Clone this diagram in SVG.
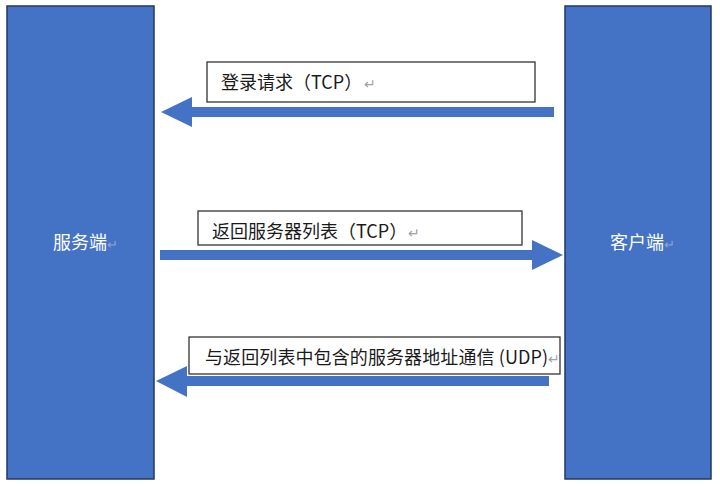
<svg xmlns="http://www.w3.org/2000/svg" width="720" height="486" viewBox="0 0 720 486">
<style>
.node{fill:#4472C4;stroke:#1F3864;stroke-width:1.5}
.nl{font-family:"Noto Sans CJK SC","Liberation Sans",sans-serif;font-size:18px;fill:#ffffff}
.box{fill:#ffffff;stroke:#333333;stroke-width:1.3}
.lt{font-family:"Noto Sans CJK SC","Liberation Sans",sans-serif;font-size:18px;fill:#1a1a1a}
.ret{font-family:"Noto Sans CJK SC","Liberation Sans",sans-serif;fill:#a0a0a0;font-size:14px}
.retw{fill:#8fa4cc;font-size:13px}
.arr{fill:#4472C4}
</style>
<rect width="720" height="486" fill="#ffffff"/>
<g id="server">
<rect class="node" x="7" y="6" width="147" height="473"/>
<text class="nl" x="53" y="249">服务端<tspan class="retw">↵</tspan></text>
</g>
<g id="client">
<rect class="node" x="565" y="6" width="146" height="473"/>
<text class="nl" x="610" y="249">客户端<tspan class="retw">↵</tspan></text>
</g>
<g id="connectors">
<polygon class="arr" points="554,107 192,107 192,97 161,112 192,127 192,117 554,117"/>
<polygon class="arr" points="160,250 532,250 532,240 563,255 532,270 532,260 160,260"/>
<polygon class="arr" points="549,376 187,376 187,366 156,381 187,397 187,386 549,386"/>
</g>
<g id="label1">
<rect class="box" x="207" y="62" width="328" height="40"/>
<text class="lt" x="221" y="89">登录请求（TCP）</text>
<text class="ret" x="364" y="89">↵</text>
</g>
<g id="label2">
<rect class="box" x="198" y="211" width="324" height="34"/>
<text class="lt" x="212" y="238">返回服务器列表（TCP）</text>
<text class="ret" x="408" y="238">↵</text>
</g>
<g id="label3">
<rect class="box" x="189" y="337" width="371" height="37"/>
<text class="lt" x="205" y="364" letter-spacing="0.1">与返回列表中包含的服务器地址通信 (UDP)<tspan class="ret">↵</tspan></text>
</g>
</svg>
